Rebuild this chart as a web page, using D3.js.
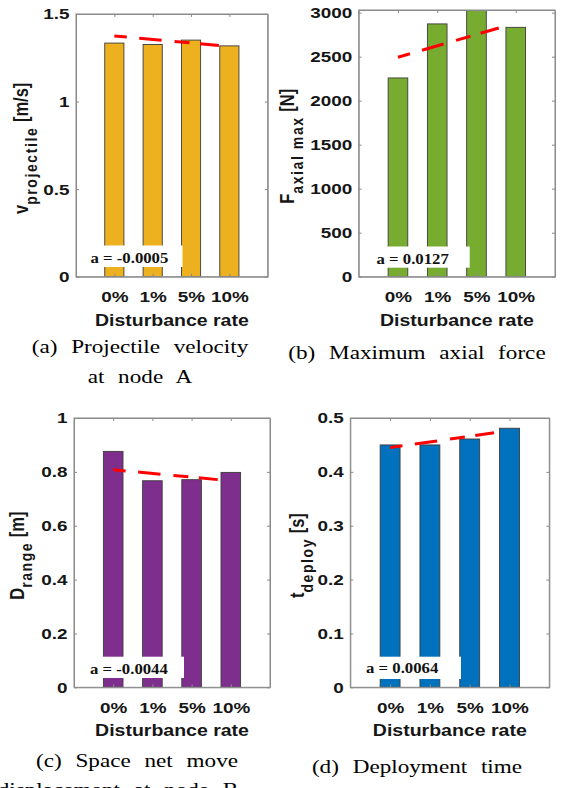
<!DOCTYPE html>
<html>
<head>
<meta charset="utf-8">
<script src="https://cdn.jsdelivr.net/npm/d3@7"></script>
<style>
  html, body { margin: 0; padding: 0; background: #fff; }
  svg { display: block; }
</style>
</head>
<body>
<svg id="chart" width="562" height="788"></svg>
<script>
// ---- data ----
const categories = ["0%", "1%", "5%", "10%"];

const velocity     = [1.334, 1.326, 1.351, 1.318];   // m/s
const axialForce   = [2258, 2872, 3080, 2833];       // N
const displacement = [0.876, 0.767, 0.771, 0.798];   // m
const deployTime   = [0.450, 0.450, 0.461, 0.481];   // s

// linear fit endpoints (value at first category, value at end of fit)
const trendVelocity     = [1.375, 1.320];
const trendAxialForce   = [2493, 2849];
const trendDisplacement = [0.808, 0.770];
const trendDeployTime   = [0.445, 0.474];
const trendSpan = [1, 3.75];   // x extent of the fit, in category units

const slopeLabels = ["a = -0.0005", "a = 0.0127", "a = -0.0044", "a = 0.0064"];

const ticksVelocity     = [0, 0.5, 1, 1.5];
const ticksAxialForce   = [0, 500, 1000, 1500, 2000, 2500, 3000];
const ticksDisplacement = [0, 0.2, 0.4, 0.6, 0.8, 1];
const ticksDeployTime   = [0, 0.1, 0.2, 0.3, 0.4, 0.5];

const tickLabelsVelocity     = ["0", "0.5", "1", "1.5"];
const tickLabelsAxialForce   = ["0", "500", "1000", "1500", "2000", "2500", "3000"];
const tickLabelsDisplacement = ["0", "0.2", "0.4", "0.6", "0.8", "1"];
const tickLabelsDeployTime   = ["0", "0.1", "0.2", "0.3", "0.4", "0.5"];

const xLabel = "Disturbance rate";

// ---- layout & style ----
const SX = 1.22;   // horizontal stretch of all lettering
const SANS = "'Liberation Sans', Arial, Helvetica, sans-serif";
const SERIF = "'Liberation Serif', 'Times New Roman', Times, serif";
const AXIS_GREY = "#8a8a8a";
const INK = "#161616";

const panels = [
  {
    values: velocity, trend: trendVelocity, ticks: ticksVelocity, tickLabels: tickLabelsVelocity,
    yMax: 1.5, color: "#EDB120",
    box: { left: 76, right: 267.7, top: 14, bottom: 276.7 },
    yLabel: { main: "v", sub: "projectile", unit: " [m/s]", x: 28 },
    note: { text: slopeLabels[0], x0: 77, x1: 182.5, y0: 245.5, y1: 267, tx: 90.5, ty: 263 },
    caption: [{ text: "(a) Projectile velocity", cx: 140, y: 353 }, { text: "at node A", cx: 140, y: 383 }]
  },
  {
    values: axialForce, trend: trendAxialForce, ticks: ticksAxialForce, tickLabels: tickLabelsAxialForce,
    yMax: 3030, color: "#77AC30",
    box: { left: 358.7, right: 555, top: 10, bottom: 276.7 },
    yLabel: { main: "F", sub: "axial max", unit: " [N]", x: 294 },
    note: { text: slopeLabels[1], x0: 372.7, x1: 469.7, y0: 246.5, y1: 267.7, tx: 376.5, ty: 263.5 },
    caption: [{ text: "(b) Maximum axial force", cx: 417, y: 359 }]
  },
  {
    values: displacement, trend: trendDisplacement, ticks: ticksDisplacement, tickLabels: tickLabelsDisplacement,
    yMax: 1, color: "#7E2F8E",
    box: { left: 74, right: 270, top: 418, bottom: 687.3 },
    yLabel: { main: "D", sub: "range", unit: " [m]", x: 23.5 },
    note: { text: slopeLabels[2], x0: 83.3, x1: 184, y0: 656.7, y1: 678, tx: 90, ty: 674 },
    caption: [{ text: "(c) Space net move", cx: 137, y: 767 }, { text: "displacement at node B", cx: 118, y: 796 }]
  },
  {
    values: deployTime, trend: trendDeployTime, ticks: ticksDeployTime, tickLabels: tickLabelsDeployTime,
    yMax: 0.5, color: "#0072BD",
    box: { left: 350.3, right: 549.3, top: 418, bottom: 687.3 },
    yLabel: { main: "t", sub: "deploy", unit: " [s]", x: 304 },
    note: { text: slopeLabels[3], x0: 361, x1: 461, y0: 656.7, y1: 679, tx: 366, ty: 673 },
    caption: [{ text: "(d) Deployment time", cx: 417, y: 773 }]
  }
];

const svg = d3.select("#chart");
const defs = svg.append("defs");

// text placed with the horizontal stretch applied around its anchor point
function stretched(parent, x, y, rotate) {
  return parent.append("g")
    .attr("transform", `translate(${x},${y}) scale(${SX},1)` + (rotate ? " rotate(-90)" : ""))
    .append("text");
}

panels.forEach((p, i) => {
  const b = p.box;
  const g = svg.append("g").attr("class", "panel-" + i);

  const x = d3.scaleLinear().domain([0, categories.length + 1]).range([b.left, b.right]);
  const y = d3.scaleLinear().domain([0, p.yMax]).range([b.bottom, b.top]);
  const barW = x(0.5) - x(0);

  defs.append("clipPath").attr("id", "clip-" + i)
    .append("rect")
    .attr("x", b.left).attr("y", b.top)
    .attr("width", b.right - b.left).attr("height", b.bottom - b.top);

  const plot = g.append("g").attr("clip-path", `url(#clip-${i})`);

  // bars
  plot.selectAll("rect.bar")
    .data(p.values)
    .join("rect")
    .attr("class", "bar")
    .attr("x", (d, k) => x(k + 1) - barW / 2)
    .attr("width", barW)
    .attr("y", d => y(d))
    .attr("height", d => y(0) - y(d))
    .attr("fill", p.color)
    .attr("stroke", "#3c3c3c")
    .attr("stroke-width", 0.9);

  // dashed linear fit
  plot.append("path")
    .datum(trendSpan.map((xv, k) => [xv, p.trend[k]]))
    .attr("d", d3.line().x(d => x(d[0])).y(d => y(d[1])))
    .attr("fill", "none")
    .attr("stroke", "#ff0000")
    .attr("stroke-width", 3)
    .attr("stroke-dasharray", "12.5,12.5,22.5,13,15,10.5,19,12.5");

  // slope annotation on a white background
  g.append("rect")
    .attr("x", p.note.x0).attr("y", p.note.y0)
    .attr("width", p.note.x1 - p.note.x0).attr("height", p.note.y1 - p.note.y0)
    .attr("fill", "#ffffff");
  stretched(g, p.note.tx, p.note.ty, false)
    .attr("font-family", SERIF)
    .attr("font-weight", "bold")
    .attr("font-size", 15.5)
    .attr("fill", "#111")
    .text(p.note.text)
    .attr("transform", `scale(${1.08 / SX},1)`);

  // box outline
  g.append("rect")
    .attr("x", b.left).attr("y", b.top)
    .attr("width", b.right - b.left).attr("height", b.bottom - b.top)
    .attr("fill", "none")
    .attr("stroke", AXIS_GREY)
    .attr("stroke-width", 1);

  // y axis (left, labelled) and mirrored ticks on the right
  const yAxis = g.append("g")
    .attr("transform", `translate(${b.left},0)`)
    .call(d3.axisLeft(y).tickValues(p.ticks)
      .tickFormat((d, k) => p.tickLabels[k])
      .tickSize(-3).tickSizeOuter(0).tickPadding(6.5));
  g.append("g")
    .attr("transform", `translate(${b.right},0)`)
    .call(d3.axisRight(y).tickValues(p.ticks).tickFormat("").tickSize(-3).tickSizeOuter(0));

  // x axis (bottom, labelled) and mirrored ticks on top
  const xAxis = g.append("g")
    .attr("transform", `translate(0,${b.bottom})`)
    .call(d3.axisBottom(x).tickValues(categories.map((c, k) => k + 1))
      .tickFormat(d => categories[d - 1])
      .tickSize(-3).tickSizeOuter(0).tickPadding(14.3));
  g.append("g")
    .attr("transform", `translate(0,${b.top})`)
    .call(d3.axisTop(x).tickValues(categories.map((c, k) => k + 1)).tickFormat("").tickSize(-3).tickSizeOuter(0));

  g.selectAll(".domain").attr("stroke", AXIS_GREY);
  g.selectAll(".tick line").attr("stroke", AXIS_GREY);

  [yAxis, xAxis].forEach(ax => {
    ax.attr("font-family", SANS).attr("font-size", 15.5).attr("font-weight", "bold");
    ax.selectAll("text").attr("fill", INK);
  });
  yAxis.selectAll("text")
    .attr("x", -6.5 / SX)
    .attr("transform", `scale(${SX},1)`);
  xAxis.selectAll("text")
    .attr("transform", `scale(${SX},1)`);

  // x label
  stretched(g, (b.left + b.right) / 2, b.bottom + 49, false)
    .attr("text-anchor", "middle")
    .attr("font-family", SANS)
    .attr("font-weight", "bold")
    .attr("font-size", 16)
    .attr("fill", INK)
    .text(xLabel);

  // y label with subscript
  const yl = stretched(g, p.yLabel.x, (b.top + b.bottom) / 2 + 3, true)
    .attr("text-anchor", "middle")
    .attr("font-family", SANS)
    .attr("font-weight", "bold")
    .attr("font-size", 16.5)
    .attr("fill", INK);
  yl.append("tspan").text(p.yLabel.main);
  yl.append("tspan")
    .attr("dy", 7)
    .attr("font-size", 14)
    .attr("letter-spacing", 1.6)
    .text(p.yLabel.sub);
  yl.append("tspan").attr("dy", -7).text(p.yLabel.unit);

  // caption
  p.caption.forEach(c => {
    stretched(svg, c.cx, c.y, false)
      .attr("text-anchor", "middle")
      .attr("font-family", SERIF)
      .attr("font-size", 19)
      .attr("word-spacing", 6.5)
      .attr("fill", "#000")
      .text(c.text);
  });
});
</script>
</body>
</html>
